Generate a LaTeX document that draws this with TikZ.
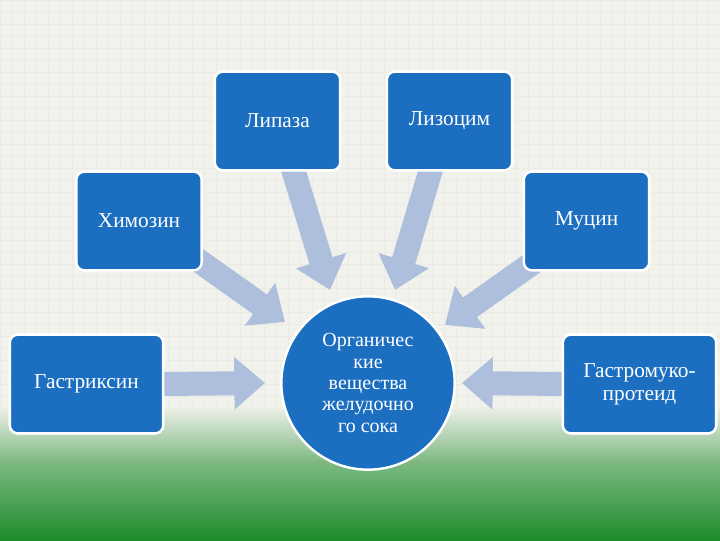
\documentclass[tikz,border=0pt]{standalone}
\usepackage{fontspec}
\setmainfont{Liberation Serif}
\usetikzlibrary{arrows.meta,calc}
\definecolor{boxblue}{HTML}{1C6EC0}
\definecolor{arr}{HTML}{AEBEDD}
\definecolor{bg}{HTML}{F2F2EC}
\definecolor{grn}{HTML}{1F8B2C}
\tikzset{
 box/.style={draw=white,line width=1.8pt,rounded corners=6pt,fill=boxblue,text=white,
   minimum width=94pt,minimum height=74pt,font=\fontsize{16}{17}\selectfont,align=center,inner sep=2pt},
 blk/.style={draw=arr,line width=18pt,-{Triangle[width=38pt,length=23pt]}},
}
\begin{document}
\begin{tikzpicture}[x=0.75pt,y=-0.75pt]
\useasboundingbox (0,0) rectangle (720,540);
\fill[bg] (0,0) rectangle (720,540);
\draw[black!3!bg,line width=0.4pt,step=9pt] (0,0) grid (720,540);
\shade[top color=bg,bottom color=grn!55!bg] (0,405) rectangle (720,462);
\shade[top color=grn!55!bg,bottom color=grn] (0,461) rectangle (720,540);
\node[box] (lip) at (277.5,121) {Липаза};
\node[box] (liz) at (449.5,121) {Лизоцим};
\node[box] (him) at (139,221) {Химозин};
\node[box] (muc) at (586.5,221) {Муцин};
\node[box,minimum width=115pt] (gas) at (86.5,384) {Гастриксин};
\node[box,minimum width=115pt] (gmp) at (639.5,384) {Гастромуко-\\протеид};
\node[circle,draw=white,line width=1.8pt,fill=boxblue,text=white,minimum size=130pt,
  font=\fontsize{15}{16}\selectfont,align=center,inner sep=0pt] (org) at (368,383)
  {Органичес\\кие\\вещества\\желудочно\\го сока};
\draw[blk] ($(lip.south)+(15,-4)$) -- (330,290);
\draw[blk] ($(liz.south)+(-18,-4)$) -- (395,290);
\draw[blk] ($(him.south east)+(-10,-15)$) -- (285,322);
\draw[blk] ($(muc.south west)+(12,-10)$) -- (445,325);
\draw[blk] ($(gas.east)+(-2,0)$) -- (265,383);
\draw[blk] ($(gmp.west)+(2,0)$) -- (462,383);
\node[box] at (lip) {Липаза};
\node[box] at (liz) {Лизоцим};
\node[box] at (him) {Химозин};
\node[box] at (muc) {Муцин};
\node[box,minimum width=115pt] at (gas) {Гастриксин};
\node[box,minimum width=115pt] at (gmp) {Гастромуко-\\протеид};
\end{tikzpicture}
\end{document}
